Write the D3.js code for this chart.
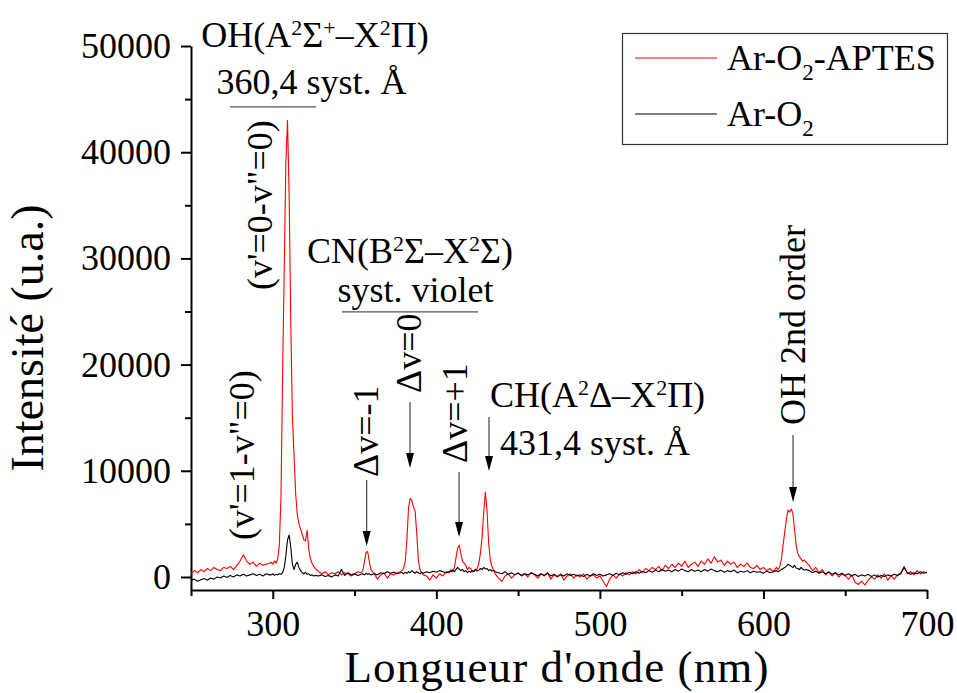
<!DOCTYPE html>
<html><head><meta charset="utf-8">
<script src="https://cdn.jsdelivr.net/npm/d3@7"></script>
<style>
body{margin:0;background:#fff;}
svg{display:block;}
text{font-family:"Liberation Serif","Times New Roman",serif;fill:#000;}
</style>
</head><body>
<svg id="chart" width="957" height="693"></svg>
<script>
// ---------------- DATA ----------------
const wavelength = [
250,252,254,256,258,260,262,264,266,268,270,272,274,276,278,280,282,284,286,288,290,292,294,296,298,
299,300,301,302,303,304,305,306,307,308,309,310,311,312,313,314,315,316,317,318,319,320,321,322,323,324,325,326,
328,330,332,334,336,338,340,342,344,346,348,350,352,354,
355,356,357,358,359,360,
362,364,366,368,370,372,374,376,378,
379,380,381,382,383,384,385,386,387,388,389,390,391,392,
394,396,398,400,402,404,406,408,
409,410,411,412,413,414,415,416,417,418,419,420,421,422,423,424,425,426,427,428,429,430,431,432,433,434,435,436,
438,440,442,444,446,448,450,452,454,456,458,460,462,464,466,468,470,472,474,476,478,480,482,484,486,488,490,492,494,496,498,500,
502,504,506,508,510,512,514,516,518,520,522,524,526,528,530,532,534,536,538,540,542,544,546,548,550,552,554,556,558,560,
562,564,566,568,570,572,574,576,578,580,582,584,586,588,590,592,594,596,598,600,602,604,606,608,
609,610,611,612,613,614,615,616,617,618,619,620,621,622,623,624,625,626,
628,630,632,634,636,638,640,642,644,646,648,650,652,654,656,658,660,662,664,666,668,670,672,674,676,678,680,682,684,686,688,690,692,694,696,698,700
];

const intensityArO2APTES = [
300,600,400,700,500,800,600,900,700,600,900,800,1000,700,1100,1500,2100,1500,1200,1400,1000,1300,1100,1200,1300,
1400,1200,1500,1300,1700,3000,7500,19000,29000,39000,43000,36000,24000,15000,11500,7800,5900,5000,4500,4000,3500,3400,4400,2600,1700,1300,1000,800,
500,300,500,200,400,300,500,200,400,300,100,300,500,400,
600,1400,2300,2400,1500,700,
300,-200,200,400,-100,300,200,400,500,
600,800,1500,3500,6500,7400,7200,6600,6200,4200,1600,700,400,200,
100,-300,200,-100,300,100,500,400,
700,500,900,1800,2700,3000,2200,1500,1300,1100,700,900,800,500,600,700,800,1300,2300,3800,6200,8000,6200,3200,1600,1000,600,300,
-100,-400,100,300,-100,200,400,100,300,0,400,200,-100,300,100,400,-200,200,0,300,-300,100,300,-100,200,0,300,-200,100,200,-100,100,
-400,-900,-200,200,-100,300,100,400,200,500,300,700,400,800,600,900,700,1000,600,1100,800,1200,900,1300,1000,1500,900,1200,1400,1000,
1500,1200,1700,1300,1900,1400,1600,1100,1500,1200,1400,900,1200,1000,1300,900,800,1100,700,900,600,800,500,900,
700,1000,1700,3000,4200,5400,6300,6100,6400,6000,4500,3000,2200,1900,1700,1500,1600,1400,
1100,600,900,400,700,200,500,100,400,0,300,100,-200,200,-500,-700,-400,-750,-300,0,-200,200,-100,300,-300,100,-200,200,400,1000,300,500,200,600,300,500,400
];

const intensityArO2 = [
-300,-200,-400,-250,-150,-300,-100,-200,0,-100,100,-50,150,0,200,100,250,100,200,300,150,250,100,300,200,
200,300,150,250,200,300,250,400,900,2000,3500,3950,2800,1200,700,1200,1400,900,600,400,300,450,250,300,150,200,100,150,
100,200,50,150,0,200,100,700,150,400,200,300,150,250,
300,200,350,250,300,200,
300,200,400,300,500,350,450,300,400,
400,300,450,350,500,400,600,450,350,500,400,300,450,350,
500,400,550,450,600,500,400,550,
500,650,500,700,900,750,600,700,500,600,400,550,450,600,500,700,550,650,800,700,900,750,800,600,700,550,650,500,
400,300,500,250,400,200,350,150,300,200,400,250,100,300,150,350,100,250,50,200,100,300,150,250,100,200,50,250,100,300,150,250,
100,200,300,150,350,200,400,250,450,300,500,350,550,400,600,450,650,500,700,550,650,500,700,550,750,600,500,700,550,650,
500,700,550,750,600,500,650,450,600,500,650,400,550,450,600,400,550,450,500,350,550,400,500,600,
500,600,700,800,900,1000,1200,1100,1000,900,1100,850,800,700,900,750,650,700,
600,400,550,350,500,300,450,250,400,200,350,150,300,100,250,50,200,100,250,50,200,0,150,50,200,100,250,150,300,900,400,250,400,300,500,350,450
];

const seriesNames = ["Ar-O2-APTES", "Ar-O2"];
const seriesColors = ["#ff0000", "#000000"];
const xMajorTicks = [300, 400, 500, 600, 700];
const xMinorTicks = [250, 350, 450, 550, 650];
const yMajorTicks = [0, 10000, 20000, 30000, 40000, 50000];
const yMinorTicks = [5000, 15000, 25000, 35000, 45000];
const xTitle = "Longueur d'onde (nm)";
const yTitle = "Intensité (u.a.)";

// ---------------- CHART ----------------
const svg = d3.select("#chart");
const FONT = '"Liberation Serif","Times New Roman",serif';
const x = d3.scaleLinear().domain([250, 700]).range([191, 927]);
const y = d3.scaleLinear().domain([-1224, 50000]).range([590, 46]);

function styleAxis(g) {
  g.attr("font-family", FONT).attr("font-size", 36);
  g.selectAll("path.domain").attr("stroke", "#000").attr("stroke-width", 2);
  g.selectAll(".tick line").attr("stroke", "#000").attr("stroke-width", 2);
  g.selectAll(".tick text").attr("fill", "#000");
}

// x axis
svg.append("g").attr("transform", "translate(0,590)")
  .call(d3.axisBottom(x).tickValues(xMajorTicks).tickSize(9).tickPadding(11).tickSizeOuter(0).tickFormat(d3.format("d")))
  .call(styleAxis);
svg.append("g").attr("transform", "translate(0,590)")
  .call(d3.axisBottom(x).tickValues(xMinorTicks).tickSize(6).tickFormat("").tickSizeOuter(0))
  .call(styleAxis).call(g => g.select(".domain").remove());

// y axis
svg.append("g").attr("transform", "translate(191,0)")
  .call(d3.axisLeft(y).tickValues(yMajorTicks).tickSize(10).tickPadding(10).tickSizeOuter(0).tickFormat(d3.format("d")))
  .call(styleAxis);
svg.append("g").attr("transform", "translate(191,0)")
  .call(d3.axisLeft(y).tickValues(yMinorTicks).tickSize(6).tickFormat("").tickSizeOuter(0))
  .call(styleAxis).call(g => g.select(".domain").remove());

// axis titles
svg.append("text").attr("x", 557).attr("y", 682).attr("text-anchor", "middle")
  .attr("font-size", 45).attr("letter-spacing", 1.1).text(xTitle);
svg.append("text").attr("transform", "translate(43,338) rotate(-90)").attr("text-anchor", "middle")
  .attr("font-size", 46).text(yTitle);

// series
const seriesData = [intensityArO2APTES, intensityArO2].map(vals =>
  wavelength.map((w, i) => ({ w: w, v: vals[i] })).filter(d => d.v !== undefined));
const line = d3.line().x(d => x(d.w)).y(d => y(d.v));
seriesData.forEach((data, i) => {
  svg.append("path").datum(data).attr("d", line)
    .attr("fill", "none").attr("stroke", seriesColors[i]).attr("stroke-width", 1.1)
    .attr("stroke-linejoin", "round");
});

// ---------------- ANNOTATIONS ----------------
function richText(sel, parts, size) {
  let shift = 0;
  parts.forEach(p => {
    const t = sel.append("tspan").text(p.t);
    let target = 0, fs = size;
    if (p.sup) { target = -12; fs = 22; }
    if (p.sub) { target = 10; fs = 23; }
    t.attr("font-size", fs);
    if (target !== shift) { t.attr("dy", target - shift); shift = target; }
  });
}

function addText(nm, val, parts, anchor, rotate) {
  const t = svg.append("text").attr("font-size", 36).attr("text-anchor", anchor || "middle");
  if (rotate) t.attr("transform", `translate(${x(nm)},${y(val)}) rotate(-90)`);
  else t.attr("x", x(nm)).attr("y", y(val));
  if (typeof parts === "string") t.text(parts); else richText(t, parts, 36);
  return t;
}

function underline(nm1, nm2, val) {
  svg.append("line").attr("x1", x(nm1)).attr("x2", x(nm2)).attr("y1", y(val)).attr("y2", y(val))
    .attr("stroke", "#555").attr("stroke-width", 1.3);
}

function arrow(nm, v1, v2) {
  const x0 = x(nm), y1 = y(v1), y2 = y(v2);
  svg.append("line").attr("x1", x0).attr("x2", x0).attr("y1", y1).attr("y2", y2 - 12)
    .attr("stroke", "#444").attr("stroke-width", 1.2);
  svg.append("path").attr("d", `M${x0 - 4},${y2 - 15}L${x0 + 4},${y2 - 15}L${x0},${y2}Z`).attr("fill", "#000");
}

// OH system
addText(325.8, 49900, [{t:"OH(A"},{t:"2",sup:true},{t:"Σ"},{t:"+",sup:true},{t:"–X"},{t:"2",sup:true},{t:"Π)"}]);
addText(323.7, 45500, "360,4 syst. Å");
underline(273.8, 326.4, 44270);
addText(299.5, 27030, "(v'=0-v\"=0)", "start", true);
addText(288.5, 3490, "(v'=1-v\"=0)", "start", true);

// CN system
addText(383.9, 29580, [{t:"CN(B"},{t:"2",sup:true},{t:"Σ–X"},{t:"2",sup:true},{t:"Σ)"}]);
addText(387.3, 25900, "syst. violet");
underline(342.3, 425.5, 24960);
addText(364.3, 9420, "Δv=-1", "start", true);
arrow(357.4, 9140, 2920);
addText(390.6, 17330, "Δv=0", "start", true);
arrow(383.9, 16480, 10270);
addText(418.7, 10740, "Δv=+1", "start", true);
arrow(413.9, 9890, 3770);

// CH system
addText(432.8, 16000, [{t:"CH(A"},{t:"2",sup:true},{t:"Δ–X"},{t:"2",sup:true},{t:"Π)"}], "start");
addText(438.9, 11490, "431,4 syst. Å", "start");
arrow(432.2, 15070, 9980);

// OH 2nd order
addText(625.4, 14320, "OH 2nd order", "start", true);
arrow(618.1, 13380, 7070);

// ---------------- LEGEND ----------------
const lg = svg.append("g");
lg.append("rect").attr("x", 622.5).attr("y", 33.5).attr("width", 325).attr("height", 111)
  .attr("fill", "#fff").attr("stroke", "#333").attr("stroke-width", 1.2);
const legendRows = [
  [{t:"Ar-O"},{t:"2",sub:true},{t:"-APTES"}],
  [{t:"Ar-O"},{t:"2",sub:true}]
];
legendRows.forEach((parts, i) => {
  const yy = 58 + i * 56;
  lg.append("line").attr("x1", 635).attr("x2", 717).attr("y1", yy).attr("y2", yy)
    .attr("stroke", seriesColors[i]).attr("stroke-width", 1.2);
  const t = lg.append("text").attr("x", 727).attr("y", yy + 12).attr("font-size", 36);
  richText(t, parts, 36);
});
</script>
</body></html>
